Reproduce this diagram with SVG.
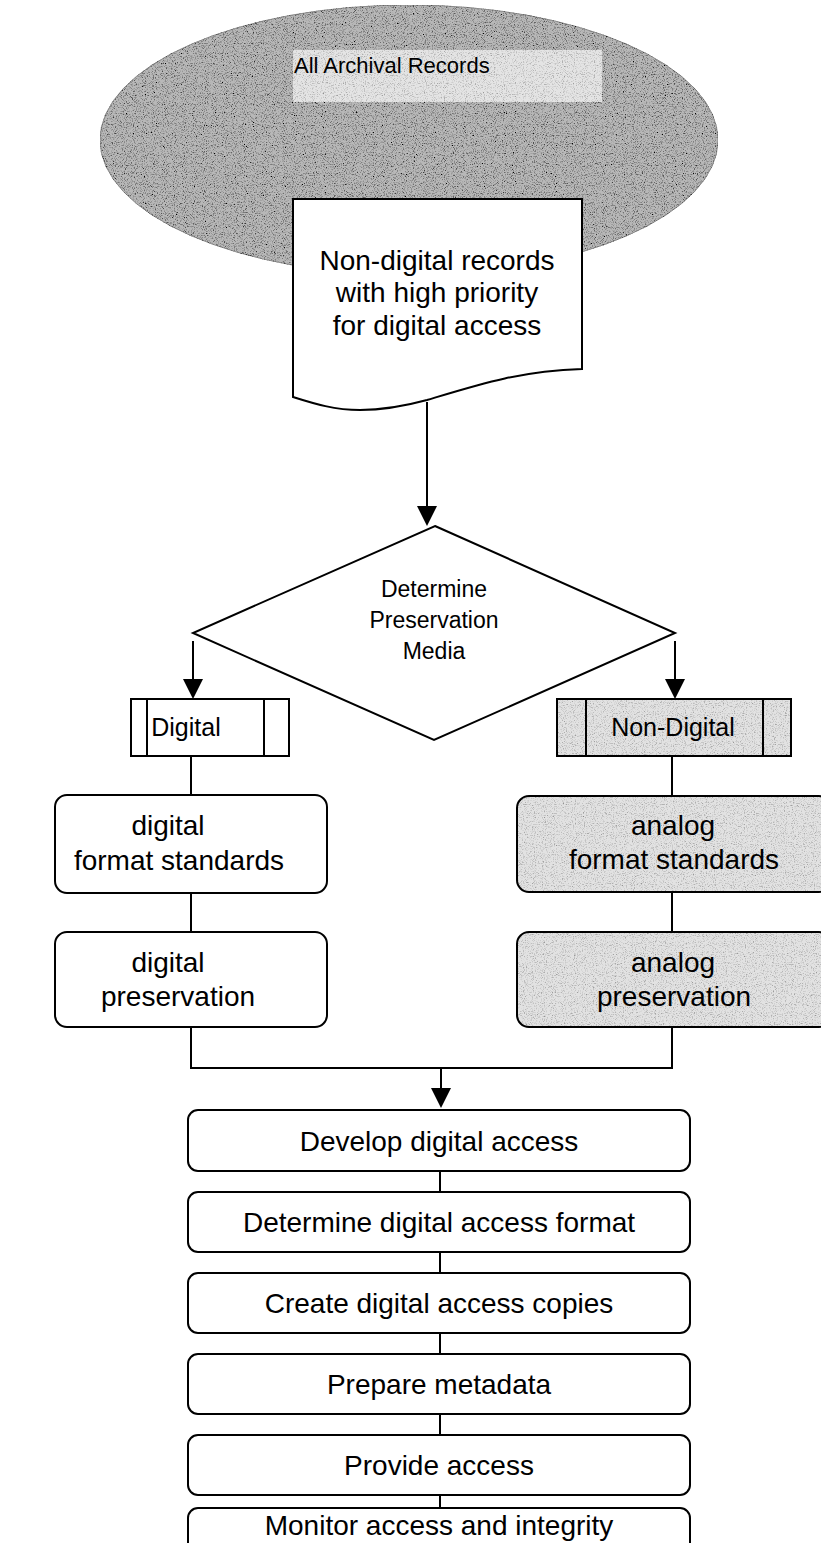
<svg xmlns="http://www.w3.org/2000/svg" width="821" height="1543" viewBox="0 0 821 1543">
  <defs>
    <style>
      .ln { fill: none; stroke: #000; stroke-width: 2; }
      .box { fill: #fff; stroke: #000; stroke-width: 2; }
      .t { font-family: "Liberation Sans", Arial, sans-serif; fill: #000; text-anchor: middle; }
      .big { font-size: 28px; }
      .mid { font-size: 23px; }
      .tag { font-size: 25px; }
      .head { fill: #000; }
    </style>
    <!-- speckled halftone look for the grey fills -->
    <filter id="grain" x="0" y="0" width="100%" height="100%">
      <feTurbulence type="fractalNoise" baseFrequency="0.9" numOctaves="2" seed="7" result="n"/>
      <feColorMatrix in="n" type="matrix" values="0 0 0 0 0  0 0 0 0 0  0 0 0 0 0  3 0 0 0 -1.45" result="dots"/>
      <feComposite in="dots" in2="SourceGraphic" operator="in" result="spk"/>
      <feMerge>
        <feMergeNode in="SourceGraphic"/>
        <feMergeNode in="spk"/>
      </feMerge>
    </filter>
    <filter id="grain-light" x="0" y="0" width="100%" height="100%">
      <feTurbulence type="fractalNoise" baseFrequency="0.9" numOctaves="2" seed="11" result="n"/>
      <feColorMatrix in="n" type="matrix" values="0 0 0 0 0  0 0 0 0 0  0 0 0 0 0  1.6 0 0 0 -0.8" result="dots"/>
      <feComposite in="dots" in2="SourceGraphic" operator="in" result="spk"/>
      <feMerge>
        <feMergeNode in="SourceGraphic"/>
        <feMergeNode in="spk"/>
      </feMerge>
    </filter>
  </defs>

  <rect width="821" height="1543" fill="#fff"/>

  <!-- all records pool -->
  <g id="all-records">
    <ellipse cx="409" cy="140" rx="309" ry="135" fill="#b8b8b8" stroke="#8a8a8a" stroke-width="1" filter="url(#grain)"/>
    <rect x="293" y="50" width="309" height="52" fill="#e4e4e4" filter="url(#grain-light)"/>
    <text class="t" x="294" y="73" font-size="22" style="text-anchor:start">All Archival Records</text>
  </g>

  <!-- priority records (document shape) -->
  <g id="priority-records">
    <path class="box" d="M293,199 H582 V369 C520,371 480,384 427,400 C405,406 385,410 360,410 C335,410 315,404 293,397 Z"/>
    <text class="t big" x="437" y="270">Non-digital records</text>
    <text class="t big" x="437" y="302">with high priority</text>
    <text class="t big" x="437" y="335">for digital access</text>
  </g>

  <!-- decision -->
  <g id="decision">
    <polygon class="box" points="435,526 675,633 434,740 193,633"/>
    <text class="t mid" x="434" y="597">Determine</text>
    <text class="t mid" x="434" y="628">Preservation</text>
    <text class="t mid" x="434" y="659">Media</text>
  </g>

  <!-- branch headers -->
  <g id="digital">
    <rect class="box" x="131" y="699" width="158" height="57"/>
    <line class="ln" x1="147" y1="699" x2="147" y2="756"/>
    <line class="ln" x1="264" y1="699" x2="264" y2="756"/>
    <text class="t tag" x="186" y="736">Digital</text>
  </g>
  <g id="non-digital">
    <rect x="557" y="699" width="234" height="57" fill="#e2e2e2" filter="url(#grain-light)"/>
    <rect class="ln" x="557" y="699" width="234" height="57"/>
    <line class="ln" x1="586" y1="699" x2="586" y2="756"/>
    <line class="ln" x1="763" y1="699" x2="763" y2="756"/>
    <text class="t tag" x="673" y="736">Non-Digital</text>
  </g>

  <!-- digital branch -->
  <g id="digital-standards">
    <rect class="box" x="55" y="795" width="272" height="98" rx="12"/>
    <text class="t big" x="168" y="835">digital</text>
    <text class="t big" x="179" y="870">format standards</text>
  </g>
  <g id="digital-preservation">
    <rect class="box" x="55" y="932" width="272" height="95" rx="12"/>
    <text class="t big" x="168" y="972">digital</text>
    <text class="t big" x="178" y="1006">preservation</text>
  </g>

  <!-- analog branch -->
  <g id="analog-standards">
    <rect x="517" y="796" width="314" height="96" rx="12" fill="#e2e2e2" filter="url(#grain-light)"/>
    <rect class="ln" x="517" y="796" width="314" height="96" rx="12"/>
    <text class="t big" x="673" y="835">analog</text>
    <text class="t big" x="674" y="869">format standards</text>
  </g>
  <g id="analog-preservation">
    <rect x="517" y="932" width="314" height="95" rx="12" fill="#e2e2e2" filter="url(#grain-light)"/>
    <rect class="ln" x="517" y="932" width="314" height="95" rx="12"/>
    <text class="t big" x="673" y="972">analog</text>
    <text class="t big" x="674" y="1006">preservation</text>
  </g>

  <!-- access steps -->
  <g id="develop-access">
    <rect class="box" x="188" y="1110" width="502" height="61" rx="10"/>
    <text class="t big" x="439" y="1151">Develop digital access</text>
  </g>
  <g id="access-format">
    <rect class="box" x="188" y="1192" width="502" height="60" rx="10"/>
    <text class="t big" x="439" y="1232">Determine digital access format</text>
  </g>
  <g id="access-copies">
    <rect class="box" x="188" y="1273" width="502" height="60" rx="10"/>
    <text class="t big" x="439" y="1313">Create digital access copies</text>
  </g>
  <g id="metadata">
    <rect class="box" x="188" y="1354" width="502" height="60" rx="10"/>
    <text class="t big" x="439" y="1394">Prepare metadata</text>
  </g>
  <g id="provide-access">
    <rect class="box" x="188" y="1435" width="502" height="60" rx="10"/>
    <text class="t big" x="439" y="1475">Provide access</text>
  </g>
  <g id="monitor">
    <rect class="box" x="188" y="1508" width="502" height="60" rx="10"/>
    <text class="t big" x="439" y="1535">Monitor access and integrity</text>
  </g>

  <!-- connectors -->
  <g id="connectors">
    <line class="ln" x1="427" y1="402" x2="427" y2="508"/>
    <polygon class="head" points="417,506 437,506 427,526"/>
    <line class="ln" x1="193" y1="641" x2="193" y2="681"/>
    <polygon class="head" points="183,679 203,679 193,699"/>
    <line class="ln" x1="675" y1="641" x2="675" y2="681"/>
    <polygon class="head" points="665,679 685,679 675,699"/>
    <line class="ln" x1="191" y1="756" x2="191" y2="795"/>
    <line class="ln" x1="191" y1="893" x2="191" y2="932"/>
    <line class="ln" x1="672" y1="756" x2="672" y2="796"/>
    <line class="ln" x1="672" y1="892" x2="672" y2="932"/>
    <polyline class="ln" points="191,1027 191,1068 672,1068 672,1027"/>
    <line class="ln" x1="441" y1="1068" x2="441" y2="1090"/>
    <polygon class="head" points="431,1088 451,1088 441,1108"/>
    <line class="ln" x1="440" y1="1171" x2="440" y2="1192"/>
    <line class="ln" x1="440" y1="1252" x2="440" y2="1273"/>
    <line class="ln" x1="440" y1="1333" x2="440" y2="1354"/>
    <line class="ln" x1="440" y1="1414" x2="440" y2="1435"/>
    <line class="ln" x1="440" y1="1495" x2="440" y2="1508"/>
  </g>
</svg>
